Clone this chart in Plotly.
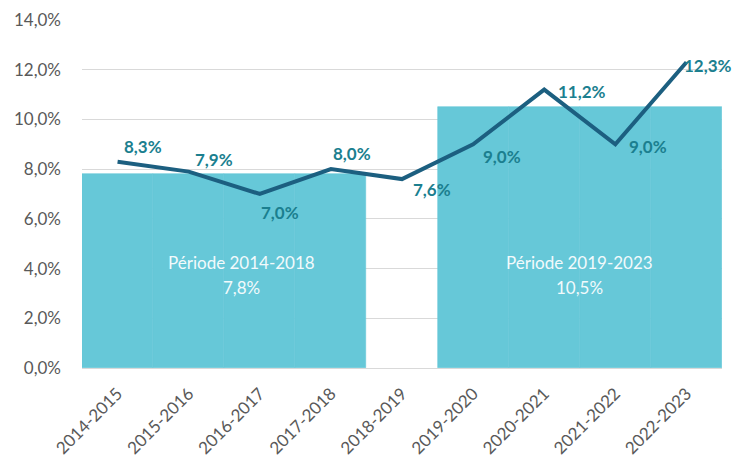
import plotly.graph_objects as go

categories = ["2014-2015", "2015-2016", "2016-2017", "2017-2018", "2018-2019",
              "2019-2020", "2020-2021", "2021-2022", "2022-2023"]
rates = [8.3, 7.9, 7.0, 8.0, 7.6, 9.0, 11.2, 9.0, 12.3]
period_names = ["Période 2014-2018", "Période 2019-2023"]
period_values = [7.8, 10.5]
period_members = [categories[0:4], categories[5:9]]

# build bar series from the period data
bar_y = []
for c in categories:
    v = None
    for vals, members in zip(period_values, period_members):
        if c in members:
            v = vals
    bar_y.append(v)

# label offsets (pixels) relative to each point: style only
label_dx = [25, 25, 20, 21, 30, 29, 38, 33, 22]
label_dy = [15, 12, -18, 16, -10, -12, -2, -2, -3]

FONT = "Lato"
fig = go.Figure()
fig.add_trace(go.Bar(
    x=categories, y=bar_y,
    marker=dict(color="#66C8D8", line=dict(color="#66C8D8", width=0.6)),
    hoverinfo="skip", showlegend=False,
))
fig.add_trace(go.Scatter(
    x=categories, y=rates, mode="lines",
    line=dict(color="#1C5F80", width=4),
    showlegend=False, cliponaxis=False,
))

for c, r, dx, dy in zip(categories, rates, label_dx, label_dy):
    fig.add_annotation(
        x=c, y=r, xref="x", yref="y", showarrow=False,
        xshift=dx, yshift=dy, xanchor="center", yanchor="middle",
        text=f"{r:.1f}%".replace(".", ","),
        font=dict(color="#1B7F8F", size=17, family=FONT, weight="bold"),
    )

shifts = [17, 0]
for name, val, members, sh in zip(period_names, period_values, period_members, shifts):
    mid = (categories.index(members[0]) + categories.index(members[-1])) / 2
    fig.add_annotation(
        x=mid, y=3.76, xref="x", yref="y", showarrow=False, xshift=sh, yshift=12.5,
        text=name, font=dict(color="#F2FAFC", size=17, family=FONT),
        xanchor="center", yanchor="middle",
    )
    fig.add_annotation(
        x=mid, y=3.76, xref="x", yref="y", showarrow=False, xshift=sh, yshift=-12.5,
        text=f"{val:.1f}%".replace(".", ","),
        font=dict(color="#F2FAFC", size=17, family=FONT),
        xanchor="center", yanchor="middle",
    )

fig.update_layout(
    width=737, height=449,
    margin=dict(l=74, r=23, t=12, b=89),
    paper_bgcolor="white", plot_bgcolor="white",
    bargap=0, separators=", ",
    font=dict(family=FONT, color="#595959", size=17),
    xaxis=dict(tickangle=-45, tickfont=dict(size=17, color="#595959"),
               showgrid=False, showline=True, linecolor="#D9D9D9", linewidth=1,
               ticks="", range=[-0.5, 8.5], automargin=False,
               ticklabelshift=0, ticklabelstandoff=8),
    yaxis=dict(range=[0, 14], dtick=2, tickformat=".1f", ticksuffix="%",
               showgrid=True, gridcolor="#D9D9D9", gridwidth=1,
               zeroline=False, ticks="", ticklabelstandoff=20,
               tickfont=dict(size=17, color="#595959"), automargin=False),
)
fig.write_html("out.html")
